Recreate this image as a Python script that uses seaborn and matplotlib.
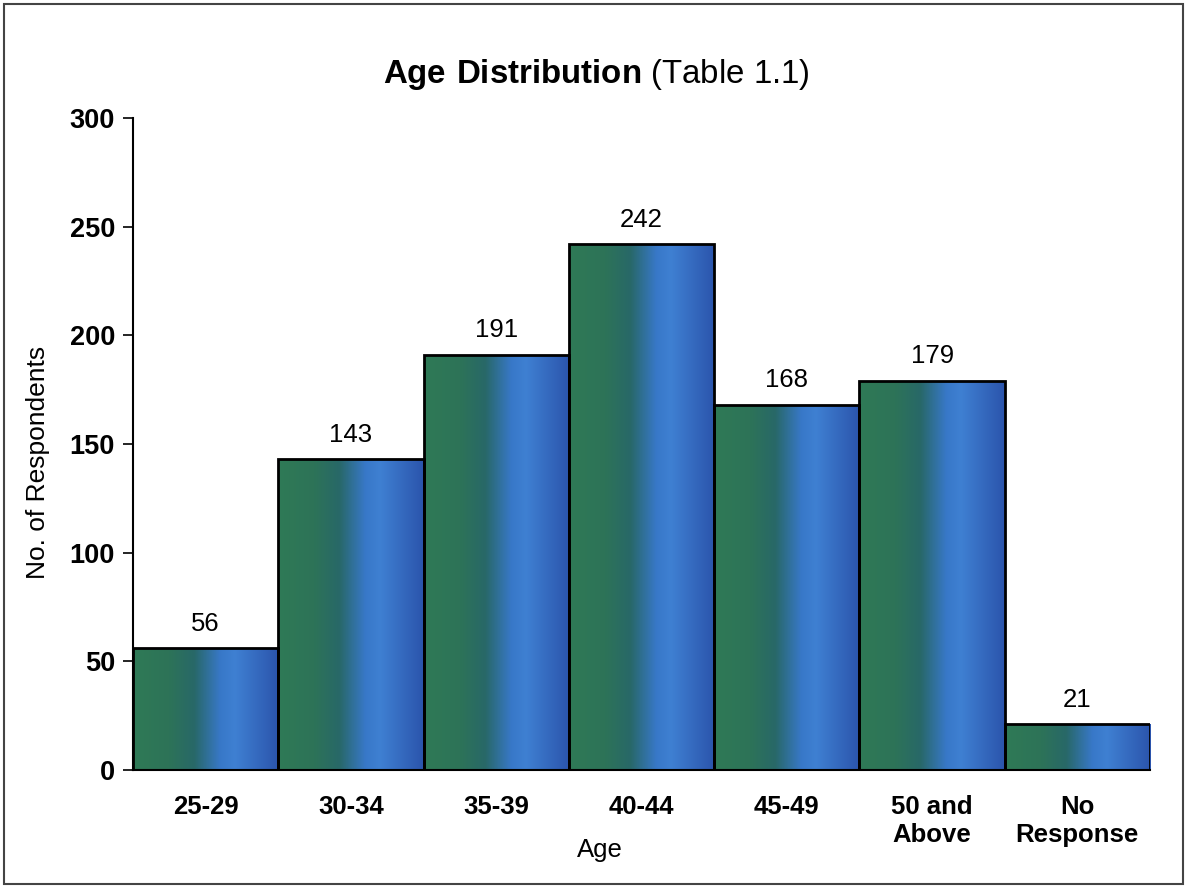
import matplotlib
matplotlib.use("Agg")
import matplotlib.pyplot as plt
import matplotlib.patches as mpatches
from matplotlib.colors import LinearSegmentedColormap
import numpy as np
import pandas as pd
import seaborn as sns

categories = ["25-29", "30-34", "35-39", "40-44", "45-49", "50 and\nAbove", "No\nResponse"]
values = [56, 143, 191, 242, 168, 179, 21]
yticks = [0, 50, 100, 150, 200, 250, 300]

sns.set_theme(style="white")
plt.rcParams["font.family"] = ["Liberation Sans", "DejaVu Sans"]
plt.rcParams["text.color"] = "black"
plt.rcParams["axes.labelcolor"] = "black"
plt.rcParams["xtick.color"] = "black"
plt.rcParams["ytick.color"] = "black"
plt.rcParams["mathtext.fontset"] = "custom"
plt.rcParams["mathtext.bf"] = "Liberation Sans:bold"
plt.rcParams["mathtext.rm"] = "Liberation Sans"

df = pd.DataFrame({"Age": categories, "Count": values})

fig = plt.figure(figsize=(11.87, 8.88), dpi=100)
ax = fig.add_axes([133/1187, 1 - 770/888, (1150-133)/1187, (770-118)/888])

sns.barplot(data=df, x="Age", y="Count", ax=ax, width=1.0, color="#2f7d57",
            edgecolor="black", linewidth=2, saturation=1)

cmap = LinearSegmentedColormap.from_list("g", [
    (0.0, "#2f7a56"), (0.25, "#2d7358"), (0.42, "#286868"),
    (0.6, "#3878c8"), (0.7, "#3f80d2"), (1.0, "#2b54ac")])
grad = np.linspace(0, 1, 256).reshape(1, -1)
for p in ax.patches:
    x0, y0 = p.get_x(), p.get_y()
    w, h = p.get_width(), p.get_height()
    im = ax.imshow(grad, cmap=cmap, aspect="auto", extent=[x0, x0 + w, y0, y0 + h],
                   zorder=p.get_zorder() - 0.1, interpolation="bilinear")
    im.set_clip_path(p)
    p.set_facecolor("none")
    p.set_zorder(3)

ax.bar_label(ax.containers[0], padding=9, fontsize=18.5, color="black")

ax.set_xlim(-0.5, 6.5)
ax.set_ylim(0, 300)
ax.set_yticks(yticks)
ax.tick_params(axis="y", left=True, length=7, width=1.2, color="black", labelsize=19.5, pad=6)
ax.tick_params(axis="x", bottom=False, labelsize=18.5, pad=12)
for lab in ax.get_yticklabels() + ax.get_xticklabels():
    lab.set_fontweight("bold")
for s in ["top", "right"]:
    ax.spines[s].set_visible(False)
for s in ["left", "bottom"]:
    ax.spines[s].set_color("black")
    ax.spines[s].set_linewidth(1.5)

ax.set_xlabel("Age", fontsize=18.5)
ax.xaxis.set_label_coords((600 - 133) / (1150 - 133), -(850 - 770) / (770 - 118))
ax.xaxis.label.set_va("center")
ax.set_ylabel("No. of Respondents", fontsize=19)
ax.yaxis.set_label_coords(-(133 - 38) / (1150 - 133), (770 - 462) / (770 - 118))
ax.yaxis.label.set_va("center")

fig.text(596/1187, 1 - 75/888, r"$\mathbf{Age\ Distribution}$ (Table 1.1)", ha="center", va="center",
         fontsize=23.8)

fig.patches.append(mpatches.Rectangle((4/1187, 4/888), 1 - 8/1187, 1 - 8/888, transform=fig.transFigure,
                                      fill=False, edgecolor="#444444", linewidth=1.5))

fig.savefig("out.png", dpi=100)
